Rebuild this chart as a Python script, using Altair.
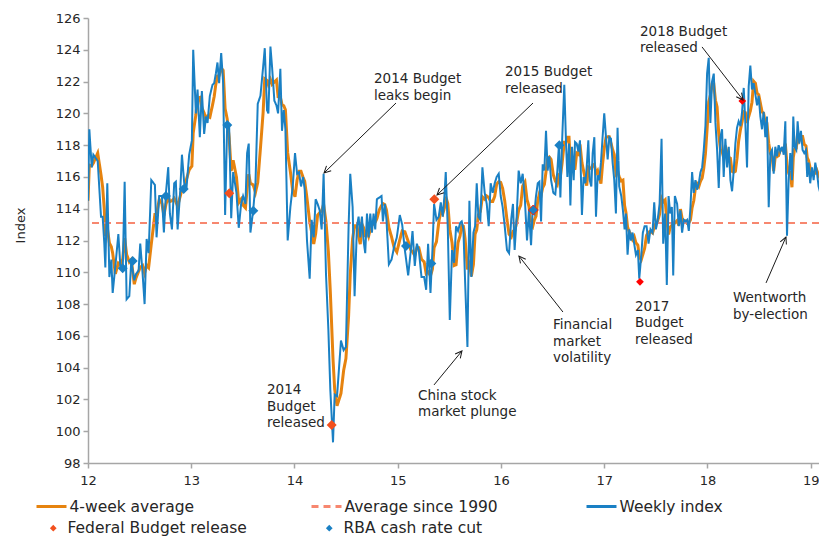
import math
import altair as alt
import pandas as pd

# ---------------- data ----------------
week_year = [
    12.000, 12.013, 12.036, 12.052, 12.094, 12.126, 12.142, 12.158, 12.168, 12.187, 12.207, 12.226, 12.239,
    12.265, 12.294, 12.313, 12.336, 12.355, 12.374, 12.400, 12.419, 12.448, 12.465, 12.490, 12.506, 12.529,
    12.548, 12.568, 12.587, 12.613, 12.648, 12.664, 12.690, 12.716, 12.735, 12.755, 12.777, 12.793, 12.813,
    12.835, 12.851, 12.868, 12.893, 12.910, 12.932, 12.955, 12.980, 13.006, 13.019, 13.045, 13.061, 13.083,
    13.103, 13.125, 13.142, 13.158, 13.180, 13.206, 13.222, 13.238, 13.254, 13.270, 13.290, 13.309, 13.328,
    13.348, 13.367, 13.387, 13.406,
    13.438, 13.460, 13.483, 13.502, 13.525, 13.541, 13.557, 13.573, 13.600, 13.622, 13.644, 13.670, 13.696,
    13.712, 13.734, 13.747, 13.767, 13.783, 13.805, 13.825, 13.841, 13.863, 13.879, 13.896, 13.912, 13.934,
    13.960, 13.983, 14.005, 14.025, 14.044, 14.063, 14.083, 14.099, 14.121, 14.147, 14.166, 14.186, 14.205,
    14.224, 14.244, 14.263, 14.282, 14.305, 14.328, 14.347, 14.373, 14.389, 14.412, 14.450, 14.476, 14.498,
    14.524, 14.540, 14.563, 14.582, 14.605, 14.621, 14.637, 14.653, 14.669, 14.685, 14.702, 14.718, 14.734,
    14.750, 14.766, 14.782, 14.798, 14.821, 14.843, 14.856,
    14.875, 14.891, 14.914, 14.940, 14.965, 14.991, 15.020, 15.043, 15.069, 15.101, 15.127, 15.143, 15.165,
    15.185, 15.204, 15.230, 15.256, 15.275, 15.294, 15.317, 15.336, 15.352, 15.375, 15.397, 15.417, 15.436,
    15.452, 15.465, 15.485, 15.504, 15.526, 15.546, 15.565, 15.584, 15.604, 15.620, 15.636, 15.652, 15.675,
    15.694, 15.713, 15.733, 15.749, 15.765, 15.781, 15.800, 15.820, 15.842, 15.862, 15.881, 15.900, 15.920,
    15.939, 15.958, 15.978, 15.997, 16.016, 16.036, 16.058, 16.078, 16.100, 16.116, 16.132, 16.152, 16.171,
    16.191, 16.210, 16.232, 16.252, 16.271, 16.291,
    16.307, 16.323, 16.339, 16.356, 16.372, 16.388, 16.404, 16.420, 16.436, 16.452, 16.468, 16.485, 16.507,
    16.526, 16.546, 16.562, 16.575, 16.591, 16.613, 16.630, 16.643, 16.659, 16.672, 16.688, 16.704, 16.717,
    16.733, 16.749, 16.765, 16.784, 16.800, 16.817, 16.830, 16.846, 16.859, 16.875, 16.888, 16.904, 16.920,
    16.936, 16.952, 16.968, 16.984, 17.000, 17.017, 17.033, 17.049, 17.065, 17.081, 17.097, 17.113, 17.129,
    17.145, 17.165, 17.181, 17.197, 17.210, 17.226, 17.242, 17.258, 17.274, 17.290, 17.307, 17.326, 17.339,
    17.358, 17.374, 17.391, 17.410, 17.429, 17.448, 17.468, 17.484, 17.500, 17.516, 17.536, 17.555, 17.571,
    17.590, 17.606, 17.623, 17.639, 17.655, 17.668, 17.684,
    17.706, 17.722, 17.738, 17.754, 17.771, 17.787, 17.803, 17.819, 17.835, 17.851, 17.867, 17.883, 17.899,
    17.916, 17.932, 17.948, 17.964, 17.980, 17.996, 18.012, 18.028, 18.044, 18.061, 18.077, 18.093, 18.109,
    18.125, 18.141, 18.157, 18.173, 18.190, 18.206, 18.222, 18.238, 18.254, 18.270, 18.286, 18.302, 18.319,
    18.335, 18.351, 18.367, 18.383, 18.399, 18.415, 18.431, 18.447, 18.464, 18.480, 18.496, 18.512, 18.528,
    18.544, 18.560, 18.576, 18.593, 18.609, 18.625, 18.641, 18.657, 18.673, 18.689, 18.705, 18.722, 18.738,
    18.754, 18.770, 18.786, 18.802, 18.818, 18.831, 18.844, 18.860, 18.873, 18.889, 18.905, 18.921, 18.937,
    18.954, 18.966, 18.979, 18.995, 19.012, 19.028, 19.044, 19.060, 19.076, 19.092, 19.108, 19.124,
]
weekly_index = [
    114.5, 119.0, 116.6, 117.4, 117.0, 113.5, 113.5, 111.8, 110.3, 115.6, 109.7, 110.8, 108.7,
    110.4, 112.4, 110.4, 110.1, 115.7, 108.3, 108.5, 110.7, 109.5, 109.9, 110.1, 111.8, 109.9,
    108.0, 112.1, 111.2, 115.8, 115.5, 112.2, 114.8, 114.8, 112.5, 115.0, 116.6, 113.7, 112.7,
    115.6, 115.7, 112.7, 115.1, 117.4, 115.6, 115.4, 117.4, 118.3, 124.0, 120.0, 121.5, 118.5,
    121.4, 118.7, 119.8, 119.4, 121.1, 121.8, 121.9, 122.5, 123.2, 121.9, 123.8, 121.9, 113.6,
    119.3, 119.2, 113.4, 116.3,
    115.0, 112.8, 114.3, 114.8, 114.3, 117.5, 118.1, 112.5, 113.9, 115.6, 120.6, 121.1, 122.9,
    124.1, 120.2, 120.0, 124.2, 122.9, 120.8, 120.5, 120.0, 122.8, 118.9, 120.2, 119.0, 112.0,
    114.1, 115.4, 117.5, 116.2, 116.3, 115.4, 116.0, 115.2, 112.0, 109.6, 113.3, 112.2, 114.6,
    114.3, 113.9, 112.7, 116.2, 109.9, 106.4, 102.6, 99.3, 102.3, 102.2, 105.7, 105.1, 105.3,
    112.9, 116.2, 114.1, 108.5, 112.9, 113.5, 112.2, 113.5, 112.0, 111.2, 113.7, 112.2, 113.7,
    112.5, 113.7, 112.7, 114.6, 114.7, 114.8, 113.2,
    114.3, 113.3, 110.5, 110.8, 111.6, 112.2, 113.6, 113.0, 111.4, 109.8, 111.4, 112.6, 110.4,
    111.8, 111.4, 109.7, 109.7, 108.9, 111.8, 108.7, 111.4, 114.3, 113.3, 113.5, 114.4, 113.5,
    114.8, 116.3, 112.7, 107.0, 111.4, 110.6, 112.9, 112.6, 113.1, 113.2, 112.7, 109.5, 105.3,
    114.5, 109.7, 112.5, 112.9, 115.6, 113.5, 113.3, 116.6, 115.0, 114.3, 112.9, 115.6, 115.0,
    115.6, 116.0, 116.2, 114.8, 114.1, 112.9, 111.4, 111.2, 113.4, 114.3, 111.4, 113.5, 116.4,
    115.6, 116.2, 114.5, 112.0, 113.9, 111.7,
    113.9, 113.7, 114.8, 115.6, 115.7, 113.2, 116.8, 116.4, 118.9, 116.4, 117.3, 115.8, 115.0,
    114.9, 116.4, 118.1, 114.7, 118.1, 121.8, 118.1, 116.0, 118.1, 114.2, 117.9, 115.8, 118.2,
    118.1, 117.6, 118.3, 113.6, 116.0, 115.6, 116.6, 118.3, 115.8, 115.4, 117.5, 118.5, 113.5,
    116.1, 115.8, 116.9, 118.5, 120.0, 118.5, 117.1, 118.5, 118.4, 116.9, 115.8, 113.7, 119.1,
    115.4, 114.8, 113.9, 112.7, 113.7, 111.1, 112.7, 112.0, 112.5, 111.8, 111.1, 111.4, 109.6,
    111.0, 112.5, 112.9, 112.9, 111.8, 112.7, 112.5, 114.4, 112.7, 113.2, 114.3, 118.4, 111.8,
    113.7, 109.2, 114.8, 113.7, 114.1, 109.8, 114.8,
    114.3, 112.9, 113.9, 112.5, 113.3, 113.2, 113.3, 112.6, 114.1, 116.3, 115.0, 115.8, 115.2,
    115.6, 116.3, 116.6, 117.7, 119.2, 122.5, 123.5, 119.4, 122.0, 122.5, 119.4, 117.7, 115.3,
    118.5, 119.0, 116.0, 118.4, 116.6, 117.9, 115.8, 115.1, 116.4, 118.1, 119.1, 119.5, 119.2,
    120.1, 121.6, 119.3, 116.6, 121.7, 123.0, 121.5, 121.9, 121.2, 120.5, 121.1, 119.8, 119.0,
    120.1, 118.5, 119.8, 114.1, 117.5, 117.7, 116.2, 117.9, 117.3, 118.0, 117.6, 117.9, 117.4,
    119.5, 112.3, 115.8, 117.5, 115.8, 119.8, 117.9, 117.7, 119.5, 118.1, 118.9, 117.7, 117.5,
    117.7, 116.0, 116.9, 115.6, 116.6, 115.8, 116.9, 116.3, 115.4, 115.0, 114.1, 114.6,
]
avg_since_1990 = 113.1

budget_year = [13.368, 14.360, 15.354]
budget_value = [114.97, 100.39, 114.59]
budget_2016_year = [16.313]
budget_2016_value = [113.92]
budget_red_year = [17.346, 18.337]
budget_red_value = [109.40, 120.78]

rba_year = [12.336, 12.433, 12.755, 12.927, 13.349, 13.601, 15.080, 15.325, 16.313, 16.565]
rba_value = [110.25, 110.71, 114.80, 115.24, 119.27, 113.87, 111.65, 110.56, 113.92, 118.00]

line_names = ["4-week average", "Average since 1990", "Weekly index"]
line_colors = ["#E6830F", "#F7876F", "#1A80C4"]
line_dashes = [[1, 0], [7, 5], [1, 0]]
marker_names = ["Federal Budget release", "RBA cash rate cut"]
marker_colors = ["#F2501E", "#1A80C4"]

ann_text = ["2014 Budget\nleaks begin", "2015 Budget\nreleased", "2018 Budget\nreleased",
            "2014\nBudget\nreleased", "China stock\nmarket plunge", "Financial\nmarket\nvolatility",
            "2017\nBudget\nreleased", "Wentworth\nby-election"]
ann_x = [14.770, 16.039, 17.346, 13.734, 15.196, 16.504, 17.298, 18.247]
ann_y = [122.60, 123.04, 125.56, 103.03, 102.66, 107.12, 108.26, 108.82]

arrow_from_x = [14.983, 16.310, 17.947, 15.351, 16.600, 18.567]
arrow_from_y = [120.65, 120.65, 124.18, 102.91, 107.50, 109.33]
arrow_to_x = [14.286, 15.380, 18.344, 15.622, 16.174, 18.760]
arrow_to_y = [116.25, 114.86, 120.84, 105.05, 111.02, 112.22]

# ---------------- layout ----------------
W, H = 731, 445
XMIN, XMAX, YMIN, YMAX = 12, 19.08, 98, 126
FONT = "DejaVu Sans"
TXT = "#262626"
AXC = "#A6A6A6"

x_scale = alt.Scale(domain=[XMIN, XMAX], nice=False, zero=False)
y_scale = alt.Scale(domain=[YMIN, YMAX], nice=False, zero=False)
line_color_scale = alt.Scale(domain=line_names, range=line_colors)
dash_scale = alt.Scale(domain=line_names, range=line_dashes)
marker_scale = alt.Scale(domain=marker_names, range=marker_colors)

x_axis = alt.Axis(values=list(range(12, 20)), format="d", title=None, grid=False,
                  domainColor=AXC, domainWidth=1.5, tickColor=AXC, tickWidth=1.5, tickSize=5,
                  labelFont=FONT, labelFontSize=13, labelColor=TXT, labelPadding=6, labelFlush=False)
y_axis = alt.Axis(values=list(range(98, 127, 2)), title="Index", grid=False,
                  domainColor=AXC, domainWidth=1.5, tickColor=AXC, tickWidth=1.5, tickSize=5,
                  labelFont=FONT, labelFontSize=13, labelColor=TXT, labelPadding=3, labelFlush=False,
                  titleFont=FONT, titleFontSize=13, titleFontWeight="normal", titleColor=TXT,
                  titleX=-68, titleY=207, titleAngle=270, titleAlign="center", titleBaseline="middle")

legend_common = dict(
    title=None, orient="none", direction="horizontal", gridAlign="all", padding=0,
    labelFont=FONT, labelFontSize=15.5, labelFontWeight="normal", labelColor=TXT, labelLimit=400,
)
line_legend = alt.Legend(
    legendX=-53, legendY=472, columns=3, columnPadding=82,
    symbolType="stroke", symbolSize=900, symbolStrokeWidth=3, labelOffset=1.5, **legend_common,
)
marker_legend = alt.Legend(
    legendX=-42.5, legendY=502, columns=2, columnPadding=74,
    symbolType="diamond", symbolSize=45, symbolStrokeWidth=0, labelOffset=6.5, **legend_common,
)

line_color = alt.Color("series:N", scale=line_color_scale, legend=line_legend)
line_dash = alt.StrokeDash("series:N", scale=dash_scale, legend=line_legend)
marker_fill = alt.Fill("series:N", scale=marker_scale, legend=marker_legend)


def xq(field):
    return alt.X(f"{field}:Q", scale=x_scale, axis=x_axis)


def yq(field):
    return alt.Y(f"{field}:Q", scale=y_scale, axis=y_axis)


weekly_df = pd.DataFrame({"year": week_year, "value": weekly_index})

avg_line = alt.Chart(weekly_df).transform_window(
    avg="mean(value)", frame=[-3, 0], sort=[alt.SortField("year")]
).transform_calculate(series="'4-week average'").mark_line(
    strokeWidth=3, clip=True
).encode(x=xq("year"), y=yq("avg"), color=line_color, strokeDash=line_dash, order="year:Q")

avg90_df = pd.DataFrame({"value": [avg_since_1990], "series": ["Average since 1990"]})
avg90 = alt.Chart(avg90_df).mark_rule(strokeWidth=2).encode(
    y=yq("value"), color=line_color, strokeDash=line_dash)

weekly_line = alt.Chart(weekly_df).transform_calculate(series="'Weekly index'").mark_line(
    strokeWidth=2, clip=True
).encode(x=xq("year"), y=yq("value"), color=line_color, strokeDash=line_dash, order="year:Q")

budget_df = pd.DataFrame({"year": budget_year, "value": budget_value,
                          "series": ["Federal Budget release"] * len(budget_year)})
budget_pts = alt.Chart(budget_df).mark_point(shape="diamond", filled=True, size=100, opacity=1,
                                             strokeWidth=0).encode(x=xq("year"), y=yq("value"),
                                                                   fill=marker_fill)

rba_df = pd.DataFrame({"year": rba_year, "value": rba_value,
                       "series": ["RBA cash rate cut"] * len(rba_year)})
rba_pts = alt.Chart(rba_df).mark_point(shape="diamond", filled=True, size=100, opacity=1,
                                       strokeWidth=0).encode(x=xq("year"), y=yq("value"),
                                                             fill=marker_fill)

b16_df = pd.DataFrame({"year": budget_2016_year, "value": budget_2016_value})
b16_pts = alt.Chart(b16_df).mark_point(shape="diamond", filled=False, size=100, strokeWidth=1,
                                       color="#FF2200", opacity=1).encode(x=xq("year"), y=yq("value"))

bred_df = pd.DataFrame({"year": budget_red_year, "value": budget_red_value})
bred_pts = alt.Chart(bred_df).mark_point(shape="diamond", filled=True, size=60,
                                         color="#FF0000", opacity=1).encode(x=xq("year"), y=yq("value"))

# arrows
px_x = W / (XMAX - XMIN)
px_y = H / (YMAX - YMIN)
angles = []
for x0, y0, x1, y1 in zip(arrow_from_x, arrow_from_y, arrow_to_x, arrow_to_y):
    dx = (x1 - x0) * px_x
    dy = -(y1 - y0) * px_y
    angles.append(math.degrees(math.atan2(dx, -dy)) % 360)
arrow_df = pd.DataFrame({"x0": arrow_from_x, "y0": arrow_from_y, "x1": arrow_to_x,
                         "y1": arrow_to_y, "angle": angles})
arrow_lines = alt.Chart(arrow_df).mark_rule(color="#1A1A1A", strokeWidth=1).encode(
    x=xq("x0"), y=yq("y0"), x2="x1:Q", y2="y1:Q")
arrow_heads = alt.Chart(arrow_df).mark_point(
    shape="M-0.5,1L0,0L0.5,1", filled=False, size=180, color="#1A1A1A", strokeWidth=1, opacity=1
).encode(x=xq("x1"), y=yq("y1"), angle=alt.Angle("angle:Q", scale=None))

ann_df = pd.DataFrame({"x": ann_x, "y": ann_y, "text": ann_text})
ann = alt.Chart(ann_df).mark_text(
    align="left", baseline="top", lineBreak="\n", font=FONT, fontSize=13.5,
    lineHeight=16.5, color=TXT
).encode(x=xq("x"), y=yq("y"), text="text:N")

chart = alt.layer(
    avg_line, avg90, weekly_line, budget_pts, rba_pts, b16_pts, bred_pts,
    arrow_lines, arrow_heads, ann
).properties(
    width=W, height=H,
    autosize=alt.AutoSizeParams(type="none"),
    padding={"left": 80, "top": 10, "right": 0, "bottom": 75},
    background="white",
).configure_view(stroke=None)

chart.save("out.html", embed_options={"renderer": "svg", "actions": False})
